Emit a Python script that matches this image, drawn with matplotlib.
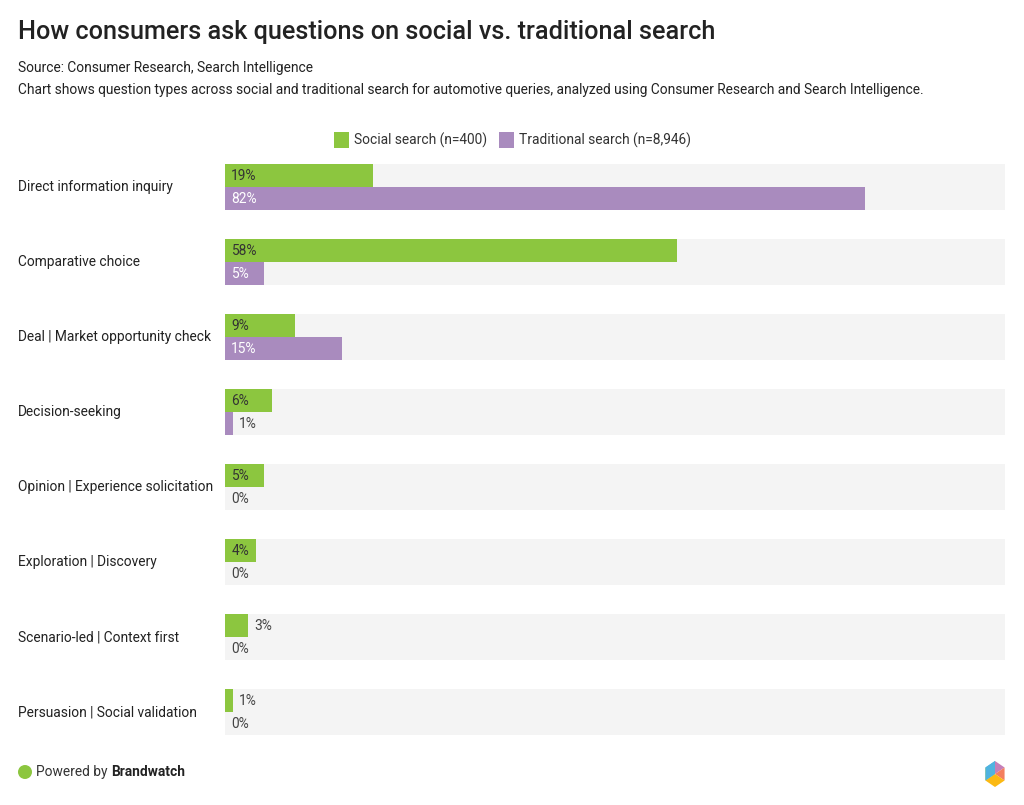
import matplotlib
matplotlib.use("Agg")
import matplotlib.pyplot as plt
from matplotlib.patches import Rectangle, Ellipse, Polygon
import numpy as np

plt.rcParams['font.family'] = ['Roboto', 'DejaVu Sans']

# data
categories = [
    "Direct information inquiry",
    "Comparative choice",
    "Deal | Market opportunity check",
    "Decision-seeking",
    "Opinion | Experience solicitation",
    "Exploration | Discovery",
    "Scenario-led | Context first",
    "Persuasion | Social validation",
]
social = [19, 58, 9, 6, 5, 4, 3, 1]
traditional = [82, 5, 15, 1, 0, 0, 0, 0]
series_names = ["Social search (n=400)", "Traditional search (n=8,946)"]

title = "How consumers ask questions on social vs. traditional search"
source = "Source: Consumer Research, Search Intelligence"
note = ("Chart shows question types across social and traditional search for automotive "
        "queries, analyzed using Consumer Research and Search Intelligence.")

GREEN = "#8CC63F"
PURPLE = "#A98BBE"
BAND = "#F4F4F4"
DARK = "#333333"
FS = 9.9

W, H = 1024, 805
fig = plt.figure(figsize=(W / 100, H / 100), dpi=100)
fig.patch.set_facecolor("white")

def fx(px):
    return px / W

def fy(py):
    return 1 - py / H

# plot area: 225..1005 px wide, 164..735 px tall
ax = fig.add_axes([fx(225), fy(735), 780 / W, 571 / H])
bh = 23 / 75
y = np.arange(len(categories))

ax.barh(y, 100, height=2 * bh, color=BAND, zorder=0)
ax.barh(y - bh / 2, social, height=bh, color=GREEN, zorder=2)
ax.barh(y + bh / 2, traditional, height=bh, color=PURPLE, zorder=2)

ax.set_xlim(0, 100)
ax.set_ylim(len(categories) - 1 + bh, -bh)
ax.axis("off")

def label(val, yy, inside_color):
    txt = f"{val}%"
    if val >= 4:
        ax.text(0.8, yy, txt, color=inside_color, fontsize=FS, va="center", ha="left", zorder=3)
    elif val == 0:
        ax.text(0.8, yy, txt, color="#444444", fontsize=FS, va="center", ha="left", zorder=3)
    else:
        ax.text(val + 0.8, yy, txt, color="#444444", fontsize=FS, va="center", ha="left", zorder=3)

for i in range(len(categories)):
    label(social[i], i - bh / 2, DARK)
    label(traditional[i], i + bh / 2, "white")
    fig.text(fx(18), fy(187 + 75 * i), categories[i], fontsize=FS, color="#222222",
             ha="left", va="center")

# header
fig.text(fx(18), fy(32), title, fontsize=18.2, fontweight="medium", color="#222222",
         ha="left", va="center")
fig.text(fx(18), fy(68), source, fontsize=FS, color="#222222", ha="left", va="center")
fig.text(fx(18), fy(90), note, fontsize=FS, color="#222222", ha="left", va="center")

# legend
leg = [(334, GREEN, series_names[0]), (499, PURPLE, series_names[1])]
for x0, c, name in leg:
    fig.add_artist(Rectangle((fx(x0), fy(148)), 15 / W, 16 / H, transform=fig.transFigure,
                             facecolor=c, edgecolor="none"))
    fig.text(fx(x0 + 20), fy(140), name, fontsize=FS, color="#333333", ha="left", va="center")

# footer
fig.add_artist(Ellipse((fx(25), fy(772)), 14 / W, 14 / H, transform=fig.transFigure,
                       facecolor=GREEN, edgecolor="none"))
t = fig.text(fx(36), fy(772), "Powered by ", fontsize=FS, color="#333333", ha="left", va="center")
fig.canvas.draw()
bb = t.get_window_extent()
fig.text(bb.x1 / W, fy(772), "Brandwatch", fontsize=FS, fontweight="bold", color="#222222",
         ha="left", va="center")

# small hexagon logo
cx, cy, r = 995, 774, 13
ang = np.deg2rad([90, 30, -30, -90, -150, 150])
pts = [(fx(cx + r * 0.85 * np.cos(a)), fy(cy - r * np.sin(a))) for a in ang]
ctr = (fx(cx), fy(cy))
cols = ["#C57FB8", "#F47E5E", "#FBB913", "#FBB913", "#8CC63F", "#4FB3E0"]
for k in range(6):
    fig.add_artist(Polygon([ctr, pts[k], pts[(k + 1) % 6]], closed=True, transform=fig.transFigure,
                           facecolor=cols[k], edgecolor="none"))
fig.add_artist(Polygon([pts[5], pts[0], ctr, pts[4]], closed=True, transform=fig.transFigure,
                       facecolor="#4FB3E0", edgecolor="none"))

fig.savefig("out.png", dpi=100, facecolor="white")
